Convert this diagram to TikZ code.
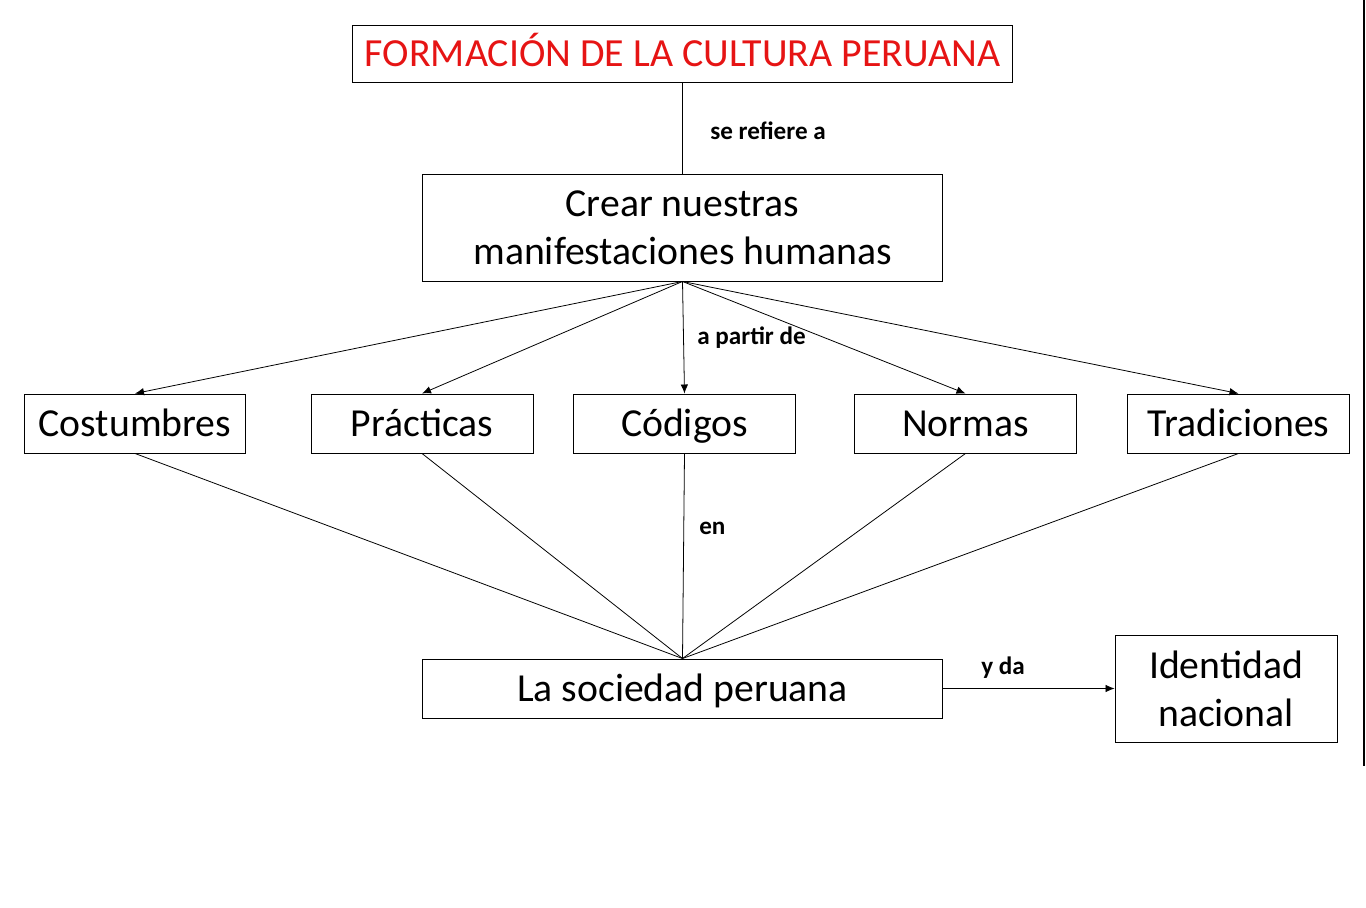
\documentclass[tikz,border=0pt]{standalone}
\usepackage{fontspec}
\setmainfont{Carlito}
\usetikzlibrary{arrows.meta}
\definecolor{titlered}{RGB}{230,20,20}

\begin{document}
\begin{tikzpicture}[x=0.02cm, y=-0.02cm, >={Latex[length=1.8mm, width=1.5mm]},
	box/.style={draw, line width=0.55pt, inner sep=0pt, align=center, minimum width=4.44cm, minimum height=1.18cm, text height=17pt, text depth=2.6pt, font=\fontsize{22.6}{27.3}\selectfont},
	lab/.style={anchor=west, inner sep=0pt, font=\bfseries\fontsize{14.3}{17}\selectfont},
	conn/.style={line width=0.45pt}]
	\useasboundingbox (0,0) rectangle (1366,908);
	% boxes
	\node[box, minimum width=13.22cm, minimum height=1.14cm, text=titlered, font=\fontsize{22.7}{27.3}\selectfont] (titulo) at (682.5,53.5) {FORMACIÓN DE LA CULTURA PERUANA};
	\node[box, minimum width=10.42cm, minimum height=2.14cm, text height=, text depth=] (crear) at (682.5,227.5) {Crear nuestras\\manifestaciones humanas};
	\node[box] (costumbres) at (135,423.5) {Costumbres};
	\node[box] (practicas) at (422,423.5) {Prácticas};
	\node[box] (codigos) at (684.5,423.5) {Códigos};
	\node[box] (normas) at (965.5,423.5) {Normas};
	\node[box] (tradiciones) at (1238.5,423.5) {Tradiciones};
	\node[box, minimum width=10.42cm] (sociedad) at (682.5,688.5) {La sociedad peruana};
	\node[box, minimum height=2.14cm, text height=, text depth=] (identidad) at (1226,688.5) {Identidad\\nacional};
	% connectors
	\draw[conn] (titulo.south) -- (crear.north);
	\foreach \n in {costumbres,practicas,codigos,normas,tradiciones} {
		\draw[conn, ->] (crear.south) -- (\n.north);
		\draw[conn] (\n.south) -- (sociedad.north);
	}
	\draw[conn, ->] (sociedad.east) -- (identidad.west);
	% labels
	\node[lab] (l1) at (710,131) {se refiere a};
	\node[lab] (l2) at (697,338) {a partir de};
	\node[lab] (l3) at (699,528) {en};
	\node[lab] (l4) at (981,668) {y da};
	% slide edge
	\draw[line width=0.85pt] (1364,0) -- (1364,766);
\end{tikzpicture}
\end{document}
